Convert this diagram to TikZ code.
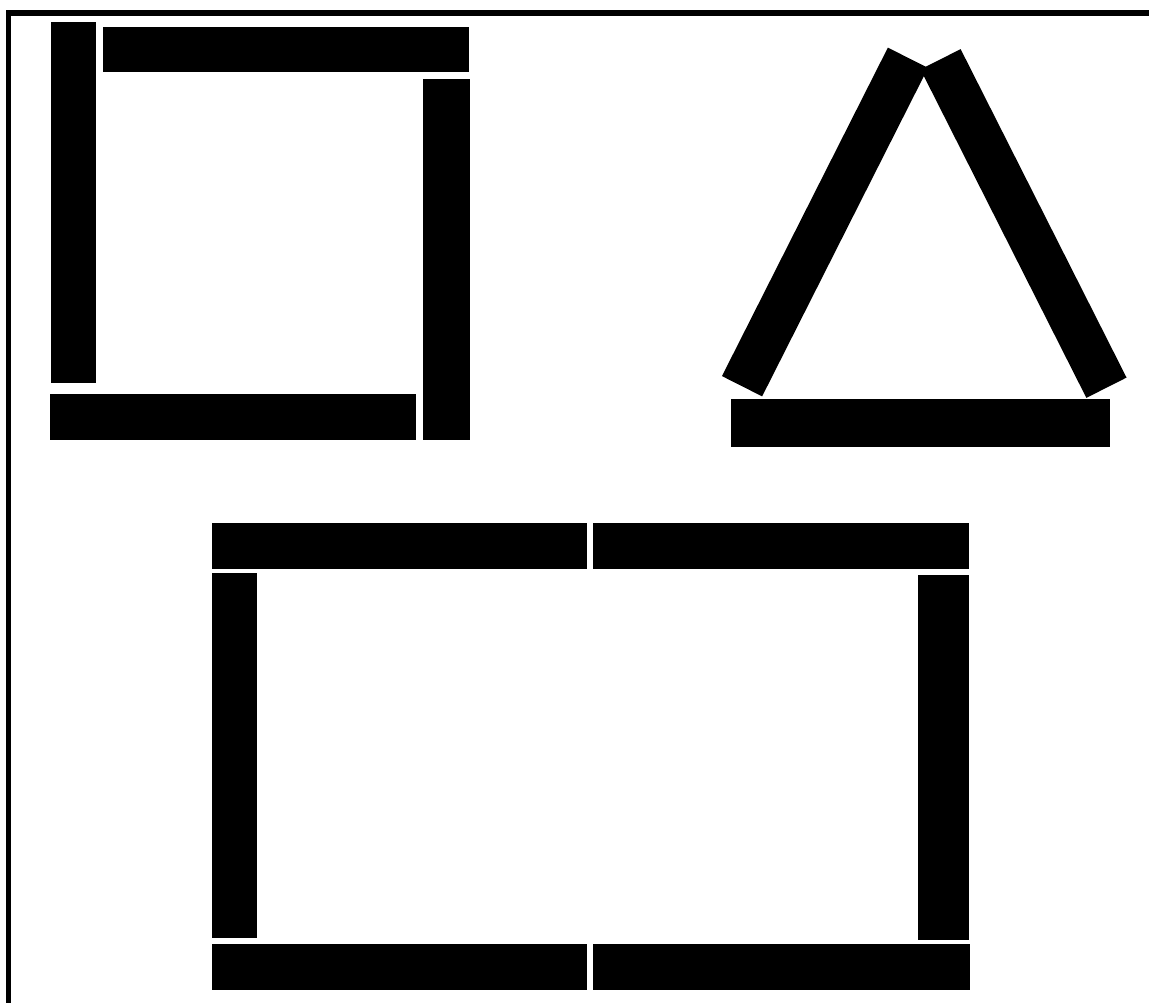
\documentclass[tikz,border=0pt]{standalone}
\usetikzlibrary{calc}

\begin{document}
\begin{tikzpicture}[x=1pt,y=-1pt, bar/.style={fill=black}]
    \useasboundingbox (0,0) rectangle (1149,1003);

    % frame (top and left only)
    \fill[bar] (6,10) rectangle (1149,16);
    \fill[bar] (6,10) rectangle (11,1003);

    % square of four sticks
    \foreach \xa/\ya/\xb/\yb in {51/22/96/383, 103/27/469/72,
                                 423/79/470/440, 50/394/416/440}{
      \fill[bar] (\xa,\ya) rectangle (\xb,\yb);
    }

    % triangle: base and two leaning legs
    \fill[bar] (731,399) rectangle (1110,447);
    \pgfmathsetmacro{\hl}{184}
    \pgfmathsetmacro{\hw}{22.5}
    \foreach \cx/\cy/\ang in {825/222/63.2, 1023.5/223.5/-63.2}{
      \fill[bar, rotate around={\ang:(\cx,\cy)}]
        ($(\cx,\cy)+(-\hl,-\hw)$) rectangle ($(\cx,\cy)+(\hl,\hw)$);
    }

    % rectangle of six sticks
    \foreach \xa/\ya/\xb/\yb in {212/523/587/569, 593/523/969/569,
                                 212/573/257/938, 918/575/969/940,
                                 212/944/587/990, 593/944/970/990}{
      \fill[bar] (\xa,\ya) rectangle (\xb,\yb);
    }

  \end{tikzpicture}
\end{document}
